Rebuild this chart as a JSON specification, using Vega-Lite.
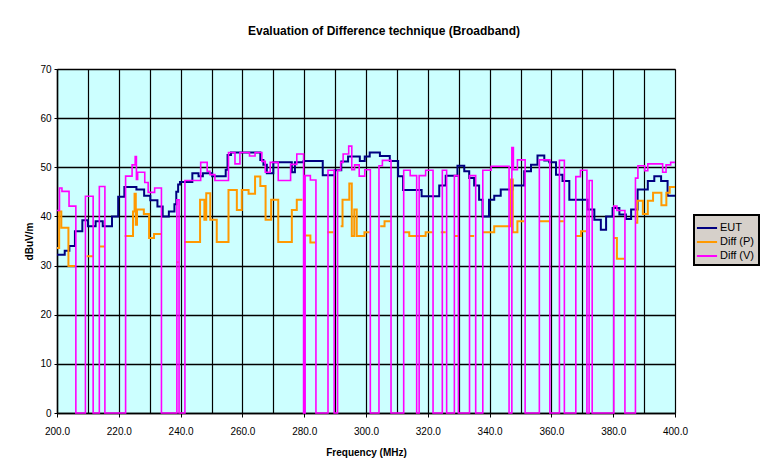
{
  "$schema": "https://vega.github.io/schema/vega-lite/v6.json",
  "autosize": "none",
  "width": 618,
  "height": 344,
  "padding": {"left": 57, "top": 69, "right": 89, "bottom": 59},
  "background": "white",
  "title": {"text": "Evaluation of Difference technique (Broadband)", "font": "Liberation Sans", "fontSize": 12, "fontWeight": "bold", "color": "black", "offset": 26, "dx": 18},
  "config": {
    "view": {"fill": "#ccffff", "stroke": "#808080", "strokeWidth": 1},
    "axis": {"labelFont": "Liberation Sans", "labelFontSize": 10, "labelColor": "black", "titleFont": "Liberation Sans", "titleFontSize": 10, "titleFontWeight": "bold", "titleColor": "black", "domainColor": "black", "tickColor": "black", "gridColor": "black", "gridOpacity": 1}
  },
  "datasets": {
    "eut": [
      {"f":200,"v":32.2},{"f":202.5,"v":33},{"f":204,"v":34},{"f":205.8,"v":37},{"f":208.2,"v":39.2},{"f":210,"v":38},{"f":212.5,"v":39},{"f":214.8,"v":38},{"f":217.8,"v":40},{"f":219.8,"v":44},{"f":221.8,"v":46},{"f":225.7,"v":45.5},{"f":228.2,"v":44.2},{"f":230.2,"v":43.3},{"f":232.5,"v":42},{"f":234.2,"v":40},{"f":236.2,"v":41},{"f":238,"v":42.5},{"f":238.6,"v":45},{"f":239.2,"v":46.5},{"f":239.8,"v":47},{"f":243.8,"v":48.8},{"f":245.8,"v":48.2},{"f":247.2,"v":48.8},{"f":250.2,"v":48.2},{"f":254.6,"v":49.5},{"f":255.2,"v":52.5},{"f":256.3,"v":53},{"f":265.8,"v":51.5},{"f":266.8,"v":50.5},{"f":267.9,"v":48.8},{"f":270,"v":51},{"f":276,"v":49},{"f":277,"v":51},{"f":279.8,"v":51.3},{"f":286,"v":48.4},{"f":289.9,"v":49.4},{"f":292,"v":51.2},{"f":294.2,"v":52.2},{"f":298,"v":51.3},{"f":299.6,"v":52.2},{"f":301.2,"v":53},{"f":304.5,"v":52.3},{"f":307.7,"v":51.3},{"f":310.4,"v":48.2},{"f":312,"v":45.4},{"f":318,"v":44.1},{"f":323.7,"v":46.3},{"f":325.8,"v":48.3},{"f":329.6,"v":50.3},{"f":331.8,"v":49.2},{"f":333.4,"v":47.8},{"f":335,"v":46.3},{"f":336.6,"v":43.4},{"f":337.7,"v":40},{"f":339.8,"v":43.4},{"f":341.5,"v":44.2},{"f":343.6,"v":45.5},{"f":347.4,"v":46.3},{"f":351.2,"v":49.2},{"f":353.4,"v":50.5},{"f":355.5,"v":52.4},{"f":357.7,"v":51.4},{"f":359.3,"v":51},{"f":361.5,"v":48.5},{"f":363.6,"v":47.2},{"f":365.8,"v":43.4},{"f":371.7,"v":41.4},{"f":373.9,"v":39.3},{"f":376,"v":37.3},{"f":377.7,"v":40},{"f":379.8,"v":41.7},{"f":382,"v":40.4},{"f":384.1,"v":39.5},{"f":385.8,"v":41.4},{"f":387.9,"v":45.5},{"f":391.2,"v":47.2},{"f":393.3,"v":48.2},{"f":395.5,"v":47.2},{"f":397.6,"v":44.2},{"f":400,"v":44.2}
    ],
    "diffp": [
      {"f":200,"v":33.6},{"f":200.7,"v":41},{"f":201.4,"v":37.7},{"f":203.7,"v":29.9},{"f":205.8,"v":29.9},{"f":205.9,"v":null},
      {"f":209.6,"v":31.9},{"f":211.6,"v":31.9},{"f":211.7,"v":null},
      {"f":213.9,"v":33.9},{"f":215.4,"v":33.9},{"f":215.5,"v":null},
      {"f":221.9,"v":36},{"f":224.6,"v":41},{"f":225.1,"v":44.6},{"f":225.5,"v":38.3},{"f":225.9,"v":41.4},{"f":228.1,"v":40.5},{"f":229.8,"v":35.6},{"f":231.4,"v":36.4},{"f":233.7,"v":36.4},{"f":233.8,"v":null},
      {"f":238.6,"v":30.7},{"f":239.4,"v":30.7},{"f":239.5,"v":null},
      {"f":241.2,"v":34.8},{"f":246.3,"v":43.4},{"f":247.7,"v":39.3},{"f":248.3,"v":44.7},{"f":249.6,"v":39.3},{"f":251.7,"v":34.8},{"f":255.5,"v":45.4},{"f":258.2,"v":41.3},{"f":259.8,"v":45.4},{"f":262,"v":44.6},{"f":264.1,"v":48.1},{"f":265.8,"v":46.2},{"f":267.5,"v":39.3},{"f":269.3,"v":43.4},{"f":271.6,"v":34.8},{"f":276,"v":41.3},{"f":277.6,"v":43.4},{"f":279.4,"v":43.4},{"f":279.5,"v":null},
      {"f":280.4,"v":36.1},{"f":282,"v":34.7},{"f":283.6,"v":34.7},{"f":283.7,"v":null},
      {"f":287.5,"v":36.8},{"f":289.4,"v":36.8},{"f":289.5,"v":null},
      {"f":291.8,"v":38},{"f":292.4,"v":43.4},{"f":294.6,"v":46.7},{"f":295.4,"v":36},{"f":296.2,"v":41.4},{"f":297,"v":36},{"f":299.5,"v":36.8},{"f":301.2,"v":36.8},{"f":301.3,"v":null},
      {"f":304.6,"v":38},{"f":306,"v":39},{"f":307.9,"v":39},{"f":308,"v":null},
      {"f":312.2,"v":36.8},{"f":314,"v":36},{"f":319.3,"v":36.8},{"f":321.5,"v":36.8},{"f":321.6,"v":null},
      {"f":324.2,"v":36.8},{"f":325.8,"v":36.8},{"f":325.9,"v":null},
      {"f":328.5,"v":36},{"f":329.8,"v":36},{"f":329.9,"v":null},
      {"f":333.4,"v":36},{"f":335,"v":36},{"f":335.1,"v":null},
      {"f":337.7,"v":36.8},{"f":341.5,"v":38},{"f":346.3,"v":38},{"f":346.9,"v":47.5},{"f":347.5,"v":36.8},{"f":349,"v":39},{"f":351.2,"v":39},{"f":351.3,"v":null},
      {"f":356.1,"v":39},{"f":359.3,"v":39},{"f":359.4,"v":null},
      {"f":362.5,"v":39},{"f":364,"v":39},{"f":364.1,"v":null},
      {"f":368,"v":36},{"f":369.6,"v":37},{"f":371.2,"v":37},{"f":371.3,"v":null},
      {"f":380.2,"v":35.6},{"f":381.2,"v":31.4},{"f":383.6,"v":31.4},{"f":383.7,"v":null},
      {"f":387.2,"v":38.7},{"f":387.8,"v":43.2},{"f":389.6,"v":40.5},{"f":391.2,"v":43.2},{"f":392.9,"v":44.8},{"f":395.6,"v":42.3},{"f":397.2,"v":44.8},{"f":398.3,"v":46},{"f":400,"v":46}
    ],
    "diffv": [
      {"f":200,"v":41.2},{"f":200.8,"v":45.8},{"f":201.6,"v":45.1},{"f":203.9,"v":42.1},{"f":206.1,"v":0},{"f":209.2,"v":44.1},{"f":211.7,"v":0},{"f":213.7,"v":46.1},{"f":215.5,"v":0},{"f":222.2,"v":48.2},{"f":224.3,"v":50.5},{"f":225.3,"v":52.2},{"f":225.7,"v":47.5},{"f":226.1,"v":49},{"f":228.4,"v":46.9},{"f":229.5,"v":44.9},{"f":231.6,"v":45.8},{"f":233.8,"v":0},{"f":238.8,"v":43.4},{"f":239.5,"v":0},{"f":241.4,"v":47.3},{"f":246.5,"v":51},{"f":248.6,"v":49.2},{"f":249.5,"v":48.5},{"f":251.1,"v":47.3},{"f":255.5,"v":53},{"f":257.6,"v":50.7},{"f":259.2,"v":53},{"f":262.3,"v":52.3},{"f":264.1,"v":53},{"f":266.3,"v":51.2},{"f":267.4,"v":49},{"f":269,"v":51},{"f":271.6,"v":47.3},{"f":275.6,"v":50.6},{"f":277.6,"v":52.7},{"f":279.8,"v":0},{"f":280.3,"v":48.3},{"f":282,"v":47.4},{"f":283.8,"v":0},{"f":287.7,"v":49.4},{"f":289.7,"v":0},{"f":290.8,"v":49.4},{"f":291.8,"v":51},{"f":292.6,"v":52.7},{"f":294.4,"v":54.3},{"f":295.4,"v":49.5},{"f":296.3,"v":50.5},{"f":297.8,"v":48.2},{"f":299.6,"v":49.5},{"f":301.4,"v":0},{"f":304.2,"v":50.3},{"f":305.3,"v":51.4},{"f":308.1,"v":0},{"f":312.2,"v":49.4},{"f":314.3,"v":48.3},{"f":316.4,"v":0},{"f":317.2,"v":48.3},{"f":319.3,"v":49.4},{"f":321.7,"v":0},{"f":324.7,"v":49.4},{"f":326.1,"v":0},{"f":328.6,"v":48.3},{"f":329.9,"v":0},{"f":333.5,"v":48.3},{"f":335.5,"v":0},{"f":337.8,"v":49.4},{"f":340.5,"v":50.2},{"f":346.3,"v":0},{"f":347.2,"v":54},{"f":347.7,"v":49.5},{"f":349,"v":51.5},{"f":351.5,"v":0},{"f":356.1,"v":51.5},{"f":359.5,"v":0},{"f":362.6,"v":51.4},{"f":364.2,"v":0},{"f":367.9,"v":48.1},{"f":369.4,"v":49.4},{"f":371.5,"v":0},{"f":372.2,"v":47.3},{"f":373.2,"v":0},{"f":380.2,"v":42.1},{"f":381.2,"v":41.2},{"f":383.8,"v":0},{"f":387.2,"v":47.8},{"f":388,"v":50.3},{"f":390.2,"v":49.3},{"f":391.2,"v":50.7},{"f":396,"v":49},{"f":397.1,"v":50.5},{"f":398.6,"v":51},{"f":400,"v":51}
    ]
  },
  "encoding": {
    "x": {"field": "f", "type": "quantitative",
      "scale": {"domain": [200, 400], "nice": false, "zero": false},
      "axis": {"title": "Frequency (MHz)", "values": [200,210,220,230,240,250,260,270,280,290,300,310,320,330,340,350,360,370,380,390,400],
        "labelExpr": "datum.value % 20 === 0 ? format(datum.value, '.1f') : ''",
        "tickOpacity": {"condition": {"test": "datum.value % 20 === 0", "value": 1}, "value": 0},
        "grid": true, "gridWidth": 1.2, "tickSize": 4, "labelPadding": 9, "titlePadding": 11, "domainWidth": 1.5, "labelFlush": false}},
    "y": {"field": "v", "type": "quantitative",
      "scale": {"domain": [0, 70], "nice": false},
      "axis": {"title": "dBuV/m", "values": [0,10,20,30,40,50,60,70], "grid": true, "gridWidth": 1.5, "tickSize": 3, "labelPadding": 3, "titlePadding": 5, "domainWidth": 1.5}}
  },
  "layer": [
    {"data": {"name": "eut"}, "mark": {"type": "line", "interpolate": "step-after", "strokeWidth": 2},
     "encoding": {"color": {"datum": "EUT", "type": "nominal",
       "scale": {"domain": ["EUT", "Diff (P)", "Diff (V)"], "range": ["#000080", "#ff9900", "#ff00ff"]},
       "legend": {"title": null, "orient": "none", "legendX": 637, "legendY": 146, "fillColor": "#d6d0ca", "strokeColor": "black", "padding": 4, "rowPadding": 0, "symbolType": "M-1.3,0H1.3", "symbolSize": 240, "symbolStrokeWidth": 2, "labelFont": "Liberation Sans", "labelFontSize": 11, "labelColor": "black", "labelOffset": 4,
         "encode": {"legend": {"update": {"strokeWidth": {"value": 2}}}}}}}},
    {"data": {"name": "diffp"}, "mark": {"type": "line", "interpolate": "step-after", "strokeWidth": 2, "invalid": "break-paths-show-domains"},
     "encoding": {"color": {"datum": "Diff (P)", "type": "nominal"}}},
    {"data": {"name": "diffv"}, "mark": {"type": "line", "interpolate": "step-after", "strokeWidth": 1.6},
     "encoding": {"color": {"datum": "Diff (V)", "type": "nominal"}}}
  ]
}
